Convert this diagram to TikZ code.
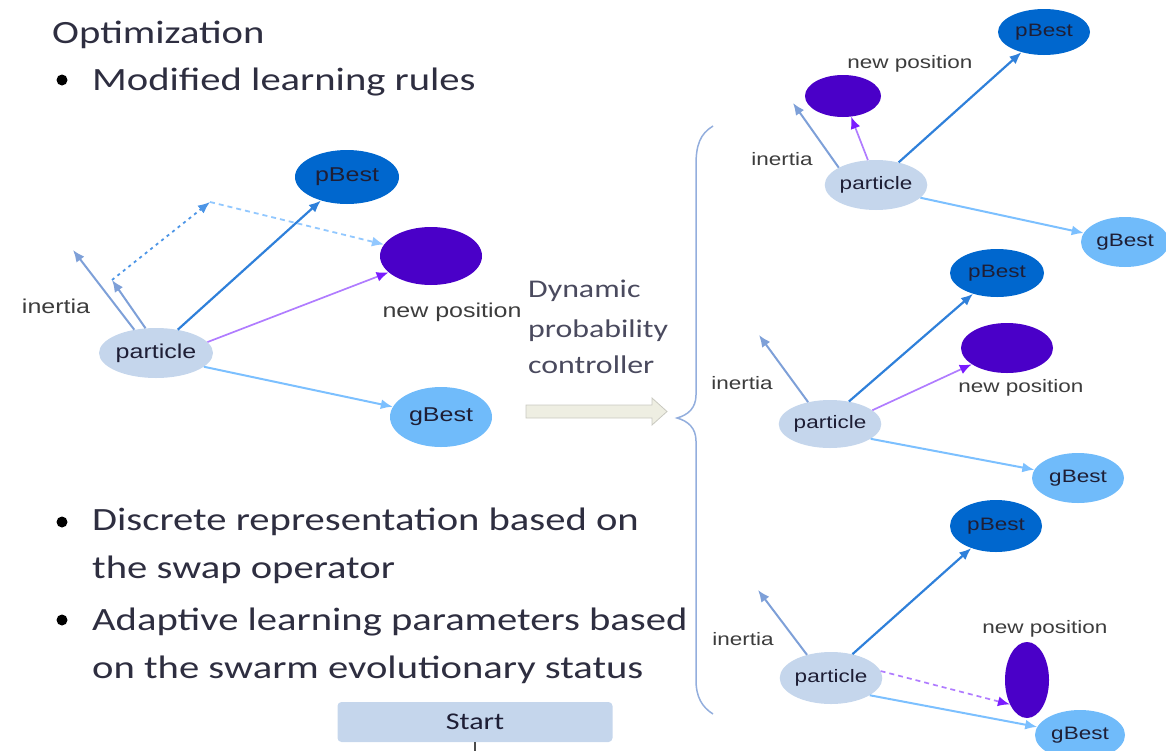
\documentclass[tikz,border=0pt]{standalone}
\usepackage{fontspec}
\setmainfont{Carlito}
\newfontfamily\arialf{Liberation Sans}
\usetikzlibrary{shapes.geometric,arrows.meta}
\definecolor{partfill}{HTML}{C5D6EC}
\definecolor{pbfill}{HTML}{0067CE}
\definecolor{npfill}{HTML}{4A00C8}
\definecolor{gbfill}{HTML}{70BBFA}
\definecolor{inertc}{HTML}{7EA0D8}
\definecolor{pbarrc}{HTML}{2F80DA}
\definecolor{nplinec}{HTML}{B07CFF}
\definecolor{nptipc}{HTML}{7A1CFF}
\definecolor{gbarrc}{HTML}{7CC0FF}
\definecolor{dotone}{HTML}{4C95E6}
\definecolor{dottwo}{HTML}{92C8FF}
\definecolor{bracec}{HTML}{93AEDD}
\definecolor{maintext}{HTML}{2E2E40}
\definecolor{ctrltext}{HTML}{4A4A5E}
\definecolor{lbltext}{HTML}{3C3C3C}
\definecolor{nodetext}{HTML}{1E1E35}
\definecolor{arrfill}{HTML}{EEEEE2}
\definecolor{arrdraw}{HTML}{C9C9C0}
\newcommand\hx[1]{\scalebox{1.25}[1]{#1}}
\begin{document}
\begin{tikzpicture}[x=1pt,y=-1pt,
  ellnode/.style={ellipse, inner sep=0pt, text=nodetext},
  bigfont/.style={font=\arialf\fontsize{20}{20}\selectfont},
  smallfont/.style={font=\arialf\fontsize{18}{18}\selectfont},
  partn/.style={ellnode, fill=partfill},
  pbn/.style={ellnode, fill=pbfill},
  npn/.style={ellnode, fill=npfill},
  gbn/.style={ellnode, fill=gbfill},
  lbl/.style={inner sep=0pt, text=lbltext},
  tipstyle/.style={-{Latex[length=12pt,width=10pt]}},
  inarr/.style={tipstyle, draw=inertc, line width=2pt},
  pbarr/.style={tipstyle, draw=pbarrc, line width=2.2pt},
  nparr/.style={-{Latex[length=12pt,width=10pt,color=nptipc]}, draw=nplinec, line width=1.7pt},
  gbarr/.style={tipstyle, draw=gbarrc, line width=2pt},
  dotarrone/.style={tipstyle, draw=dotone, line width=1.8pt, dash pattern=on 3pt off 4pt},
  dotarrtwo/.style={tipstyle, draw=dottwo, line width=1.8pt, dash pattern=on 5pt off 4pt},
  bodytext/.style={anchor=base west, inner sep=0pt, text=maintext, font=\fontsize{32.5}{32.5}\selectfont},
  ctrl/.style={anchor=base west, inner sep=0pt, text=ctrltext, font=\fontsize{25.5}{25.5}\selectfont},
  bulletdot/.style={circle, fill=black, inner sep=0pt, minimum size=11pt}
]
\useasboundingbox (0,0) rectangle (1166,750);
\clip (0,0) rectangle (1166,750);

% ---------- left text ----------
\node[bodytext] (title) at (52,43) {\hx{Optimization}};
\node[bulletdot] (bdot1) at (62,80) {};
\node[bodytext] (t1) at (92,90) {\hx{Modified learning rules}};
\node[bulletdot] (bdot2) at (62,522) {};
\node[bodytext] (t2) at (92,530) {\hx{Discrete representation based on}};
\node[bodytext] (t3) at (92,578) {\hx{the swap operator}};
\node[bulletdot] (bdot3) at (62,620) {};
\node[bodytext] (t4) at (92,630) {\hx{Adaptive learning parameters based}};
\node[bodytext] (t5) at (92,678) {\hx{on the swarm evolutionary status}};

% ---------- left diagram ----------
\node[partn, bigfont, minimum width=98pt, minimum height=50pt] (lp) at (156,353) {\hx{particle}};
\node[pbn, bigfont, minimum width=104pt, minimum height=54pt] (lb) at (347,177) {\hx{pBest}};
\node[npn, minimum width=102pt, minimum height=58pt] (ln) at (431,256) {};
\node[gbn, bigfont, minimum width=102pt, minimum height=60pt] (lg) at (441,417) {\hx{gBest}};
\node[lbl, bigfont] (lnl) at (452,312) {\hx{new position}};
\node[lbl, bigfont] (lil) at (56,306) {\hx{inertia}};
\coordinate (li1) at (73,250);
\coordinate (li2) at (112,280);
\coordinate (ld) at (210,202);
\draw[inarr] (lp.133) -- (li1);
\draw[inarr] (lp.113) -- (li2);
\draw[dotarrone] (li2) -- (ld);
\draw[dotarrtwo] (ld) -- (ln);
\draw[pbarr] (lp.47) -- (lb);
\draw[nparr] (lp.12) -- (ln);
\draw[gbarr] (lp.-16) -- (lg);

% ---------- controller ----------
\node[ctrl] (c1) at (528,297) {\hx{Dynamic}};
\node[ctrl] (c2) at (528,337) {\hx{probability}};
\node[ctrl] (c3) at (528,373) {\hx{controller}};
\draw[fill=arrfill, draw=arrdraw, line width=0.8pt]
  (526,405) -- (652,405) -- (652,398) -- (667,411.5) -- (652,425) -- (652,418) -- (526,418) -- cycle;

% ---------- brace ----------
\draw[bracec, line width=1.5pt]
  (713,126) .. controls (700,134) and (696,145) .. (696,165)
  -- (696,395) .. controls (696,408) and (688,415) .. (677,418)
  .. controls (688,421) and (696,428) .. (696,441)
  -- (696,680) .. controls (696,697) and (702,707) .. (713,714);

% ---------- right top ----------
\node[partn, smallfont, minimum width=88pt, minimum height=50pt] (tp) at (876,185) {\hx{particle}};
\node[pbn, smallfont, minimum width=92pt, minimum height=46pt] (tb) at (1044,32) {\hx{pBest}};
\node[npn, minimum width=76pt, minimum height=42pt] (tn) at (843,96) {};
\node[gbn, smallfont, minimum width=88pt, minimum height=50pt] (tg) at (1125,242) {\hx{gBest}};
\node[lbl, smallfont] (tnl) at (910,64) {\hx{new position}};
\node[lbl, smallfont] (til) at (782,159) {\hx{inertia}};
\coordinate (ti) at (793,103);
\draw[inarr] (tp.155) -- (ti);
\draw[nparr] (tp.108) -- (tn);
\draw[pbarr] (tp.45) -- (tb);
\draw[gbarr] (tp.-16) -- (tg);

% ---------- right middle ----------
\node[partn, smallfont, minimum width=88pt, minimum height=48pt] (mp) at (830,424) {\hx{particle}};
\node[pbn, smallfont, minimum width=94pt, minimum height=48pt] (mb) at (997,273) {\hx{pBest}};
\node[npn, minimum width=92pt, minimum height=50pt] (mn) at (1007,348) {};
\node[gbn, smallfont, minimum width=92pt, minimum height=50pt] (mg) at (1078,478) {\hx{gBest}};
\node[lbl, smallfont] (mnl) at (1021,388) {\hx{new position}};
\node[lbl, smallfont] (mil) at (742,383) {\hx{inertia}};
\coordinate (mi) at (759,335);
\draw[inarr] (mp.135) -- (mi);
\draw[pbarr] (mp.50) -- (mb);
\draw[nparr] (mp.18) -- (mn);
\draw[gbarr] (mp.-20) -- (mg);

% ---------- right bottom ----------
\node[partn, smallfont, minimum width=88pt, minimum height=52pt] (bp) at (831,678) {\hx{particle}};
\node[pbn, smallfont, minimum width=92pt, minimum height=52pt] (bb) at (996,526) {\hx{pBest}};
\node[npn, minimum width=44pt, minimum height=76pt] (bn) at (1027,680) {};
\node[gbn, smallfont, minimum width=90pt, minimum height=50pt] (bg) at (1080,735) {\hx{gBest}};
\node[lbl, smallfont] (bnl) at (1045,629) {\hx{new position}};
\node[lbl, smallfont] (bil) at (743,639) {\hx{inertia}};
\coordinate (bi) at (758,590);
\draw[inarr] (bp.136) -- (bi);
\draw[pbarr] (bp.48) -- (bb);
\draw[nparr, dash pattern=on 5pt off 4pt] (bp.8) -- (bn.235);
\draw[gbarr] (bp.-24) -- (bg);

% ---------- start ----------
\node[fill=partfill, rounded corners=4pt, minimum width=275pt, minimum height=40pt, inner sep=0pt,
      text=nodetext, font=\fontsize{24}{24}\selectfont] (start) at (475,722) {\hx{Start}};
\coordinate (sdown) at (475,760);
\draw[line width=1.2pt, draw=gray!60!black] (start) -- (sdown);
\end{tikzpicture}
\end{document}
